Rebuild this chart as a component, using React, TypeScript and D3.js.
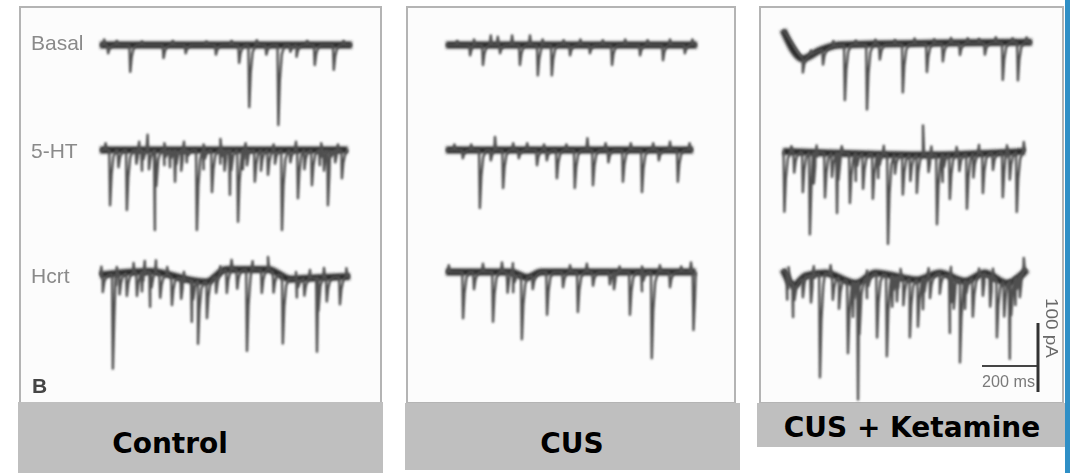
import React from 'react'
import * as d3 from 'd3'

type Pt = [number, number]

// groups and rows
const groups = ['Control', 'CUS', 'CUS + Ketamine']
const rowLabels = ['Basal', '5-HT', 'Hcrt']

// each trace: slow baseline knots [ms, pA], fast inward currents [ms, pA], small upward noise [ms, pA], duration (ms)
const controlBasalBase: Pt[] = [[0, 0], [900, 0]]
const controlBasalSpikes: Pt[] = [[29, -12], [108, -39], [227, -19], [306, -12], [414, -14], [497, -26], [533, -90], [594, -14], [637, -116], [680, -10], [702, -17], [767, -29], [835, -36]]
const controlBasalBumps: Pt[] = [[15, 8], [60, 6], [150, 5], [260, 6], [380, 5], [470, 6], [560, 7], [740, 6], [870, 6]]
const controlBasalLength = 900

const control5htBase: Pt[] = [[0, 0], [885, 0]]
const control5htSpikes: Pt[] = [[36, -80], [66, -25], [96, -87], [130, -20], [150, -30], [175, -28], [196, -116], [230, -22], [250, -25], [268, -46], [290, -30], [310, -18], [346, -116], [370, -28], [400, -61], [430, -20], [445, -30], [464, -65], [493, -104], [510, -28], [525, -22], [553, -46], [575, -30], [600, -36], [625, -20], [650, -116], [680, -18], [707, -70], [730, -28], [757, -51], [785, -22], [800, -30], [814, -80], [840, -18], [864, -41]]
const control5htBumps: Pt[] = [[20, 10], [140, 12], [170, 22], [230, 10], [300, 12], [370, 8], [430, 16], [520, 10], [620, 8], [700, 12], [790, 10], [850, 8]]
const control5htLength = 885

const controlHcrtBase: Pt[] = [[0, 0], [180, 5], [330, -8], [380, -10], [450, 8], [600, 8], [680, -6], [780, -4], [893, -2]]
const controlHcrtSpikes: Pt[] = [[10, -25], [46, -137], [70, -30], [96, -33], [132, -34], [150, -28], [179, -51], [215, -35], [257, -42], [290, -30], [328, -60], [350, -91], [382, -53], [415, -25], [453, -34], [490, -28], [525, -118], [578, -34], [620, -30], [653, -98], [703, -27], [730, -25], [775, -107], [810, -35], [857, -40]]
const controlHcrtBumps: Pt[] = [[5, 12], [60, 10], [120, 14], [160, 16], [200, 18], [240, 12], [300, 10], [430, 10], [470, 14], [545, 12], [600, 18], [700, 10], [750, 12], [800, 14], [880, 12]]
const controlHcrtLength = 893

const cusBasalBase: Pt[] = [[0, 0], [896, 0]]
const cusBasalSpikes: Pt[] = [[86, -15], [132, -29], [193, -12], [264, -29], [328, -44], [378, -44], [443, -15], [514, -12], [593, -29], [693, -15], [775, -22], [853, -12]]
const cusBasalBumps: Pt[] = [[40, 6], [100, 8], [160, 14], [185, 12], [236, 14], [300, 14], [345, 8], [420, 7], [480, 8], [560, 7], [640, 8], [720, 7], [800, 8], [880, 8]]
const cusBasalLength = 896

const cus5htBase: Pt[] = [[0, 0], [882, 0]]
const cus5htSpikes: Pt[] = [[60, -12], [121, -84], [160, -15], [204, -55], [260, -12], [325, -22], [360, -15], [396, -41], [460, -55], [525, -51], [580, -18], [632, -46], [700, -61], [760, -15], [828, -46]]
const cus5htBumps: Pt[] = [[30, 8], [90, 8], [175, 19], [240, 10], [290, 10], [350, 8], [430, 8], [505, 17], [570, 10], [660, 10], [740, 10], [800, 12], [870, 10]]
const cus5htLength = 882

const cusHcrtBase: Pt[] = [[0, 0], [230, 0], [290, -8], [340, 0], [892, 0]]
const cusHcrtSpikes: Pt[] = [[61, -67], [100, -25], [168, -72], [220, -30], [240, -28], [271, -92], [310, -20], [361, -62], [418, -22], [471, -58], [525, -20], [585, -18], [600, -25], [657, -62], [700, -28], [735, -125], [800, -22], [884, -84]]
const cusHcrtBumps: Pt[] = [[10, 10], [132, 12], [200, 14], [239, 14], [443, 10], [503, 12], [620, 8], [700, 8], [764, 10], [840, 8], [875, 14]]
const cusHcrtLength = 892

const ketBasalBase: Pt[] = [[0, 22], [70, -20], [130, -8], [200, 0], [889, 4]]
const ketBasalSpikes: Pt[] = [[71, -20], [143, -22], [221, -80], [300, -94], [346, -22], [428, -70], [514, -41], [571, -26], [632, -17], [721, -17], [785, -54], [839, -55]]
const ketBasalBumps: Pt[] = [[100, 6], [180, 8], [260, 6], [330, 7], [400, 6], [470, 8], [540, 6], [600, 8], [660, 7], [700, 6], [760, 8], [820, 6], [870, 7]]
const ketBasalLength = 889

const ket5htBase: Pt[] = [[0, 2], [500, -3], [864, 2]]
const ket5htSpikes: Pt[] = [[5, -87], [40, -30], [71, -58], [96, -119], [110, -45], [150, -65], [175, -35], [193, -87], [239, -72], [260, -40], [286, -51], [321, -65], [340, -35], [375, -130], [400, -28], [428, -58], [455, -38], [478, -55], [520, -25], [550, -101], [570, -40], [596, -65], [630, -25], [657, -80], [680, -35], [714, -58], [750, -25], [785, -65], [810, -40], [835, -87]]
const ket5htBumps: Pt[] = [[30, 8], [120, 10], [210, 10], [360, 12], [500, 43], [530, 12], [620, 10], [700, 12], [800, 10], [860, 14]]
const ket5htLength = 864

const ketHcrtBase: Pt[] = [[0, 5], [40, -18], [80, -4], [150, 0], [260, -15], [330, 0], [480, -10], [560, 0], [650, -12], [720, 0], [800, -15], [871, 5]]
const ketHcrtSpikes: Pt[] = [[15, -35], [36, -48], [71, -28], [100, -40], [132, -150], [178, -35], [200, -45], [232, -105], [250, -50], [268, -170], [300, -30], [336, -93], [371, -118], [390, -45], [407, -36], [430, -40], [453, -85], [482, -68], [500, -45], [525, -32], [560, -30], [596, -82], [610, -45], [632, -120], [650, -40], [678, -56], [714, -32], [740, -45], [764, -85], [790, -50], [810, -112], [830, -40], [846, -33]]
const ketHcrtBumps: Pt[] = [[20, 15], [110, 12], [170, 14], [300, 10], [420, 12], [520, 12], [600, 14], [700, 10], [750, 12], [860, 20]]
const ketHcrtLength = 871

// scale bar
const scaleBarMs = 200
const scaleBarPa = 100

const traces = [
  [
    { base: controlBasalBase, spikes: controlBasalSpikes, bumps: controlBasalBumps, length: controlBasalLength },
    { base: control5htBase, spikes: control5htSpikes, bumps: control5htBumps, length: control5htLength },
    { base: controlHcrtBase, spikes: controlHcrtSpikes, bumps: controlHcrtBumps, length: controlHcrtLength },
  ],
  [
    { base: cusBasalBase, spikes: cusBasalSpikes, bumps: cusBasalBumps, length: cusBasalLength },
    { base: cus5htBase, spikes: cus5htSpikes, bumps: cus5htBumps, length: cus5htLength },
    { base: cusHcrtBase, spikes: cusHcrtSpikes, bumps: cusHcrtBumps, length: cusHcrtLength },
  ],
  [
    { base: ketBasalBase, spikes: ketBasalSpikes, bumps: ketBasalBumps, length: ketBasalLength },
    { base: ket5htBase, spikes: ket5htSpikes, bumps: ket5htBumps, length: ket5htLength },
    { base: ketHcrtBase, spikes: ketHcrtSpikes, bumps: ketHcrtBumps, length: ketHcrtLength },
  ],
]

// layout
const panels = [
  { x: 20, w: 361, traceX: 100, rows: [45, 150, 275], box: { x: 18, y: 402, w: 365, h: 71 }, labelX: 170, labelY: 453 },
  { x: 407, w: 328, traceX: 446, rows: [45, 150, 272], box: { x: 405, y: 403, w: 335, h: 67 }, labelX: 572, labelY: 453 },
  { x: 760, w: 303, traceX: 783, rows: [45, 153, 273], box: { x: 757, y: 403, w: 308, h: 44 }, labelX: 912, labelY: 437 },
]
const rowLabelY = [50, 158, 283]

function tracePoints(base: Pt[], spikes: Pt[], bumps: Pt[], length: number): Pt[] {
  const baseAt = d3.scaleLinear()
    .domain(base.map(d => d[0]))
    .range(base.map(d => d[1]))
    .clamp(true)
  const pts: Pt[] = base.map(d => [d[0], d[1]] as Pt)
  spikes.forEach(([t, a]) => {
    pts.push([t - 3, baseAt(t - 3)], [t, baseAt(t) + a], [t + 5, baseAt(t + 5) + a * 0.45],
      [t + 12, baseAt(t + 12) + a * 0.12], [t + 22, baseAt(t + 22)])
  })
  bumps.forEach(([t, a]) => {
    pts.push([t - 4, baseAt(t - 4)], [t, baseAt(t) + a], [t + 4, baseAt(t + 4)])
  })
  return pts.filter(p => p[0] >= 0 && p[0] <= length).sort((a, b) => a[0] - b[0])
}

export default function App() {
  return (
    <svg width={1070} height={473} style={{ position: 'absolute', left: 0, top: 0 }}>
      <defs>
        <filter id="blurBand" filterUnits="userSpaceOnUse" x={0} y={0} width={1070} height={473}>
          <feGaussianBlur stdDeviation="1.5" />
        </filter>
        <filter id="blurLine" filterUnits="userSpaceOnUse" x={0} y={0} width={1070} height={473}>
          <feGaussianBlur stdDeviation="1" />
        </filter>
        <filter id="blurText" filterUnits="userSpaceOnUse" x={0} y={0} width={1070} height={473}>
          <feGaussianBlur stdDeviation="0.5" />
        </filter>
      </defs>
      <rect x={0} y={0} width={1070} height={473} fill="#ffffff" />

      {panels.map((p, gi) => {
        const x = d3.scaleLinear().domain([0, 1000]).range([p.traceX, p.traceX + 280])
        return (
          <g key={gi}>
            <rect x={p.x} y={7} width={p.w} height={396} fill="#fcfcfc" stroke="#b4b4b4" strokeWidth={2} />
            {traces[gi].map((tr, ri) => {
              const y = d3.scaleLinear().domain([0, -100]).range([p.rows[ri], p.rows[ri] + 69])
              const line = d3.line<Pt>().x(d => x(d[0])).y(d => y(d[1]))
              const bandLine = d3.line<Pt>().x(d => x(d[0])).y(d => y(d[1])).curve(d3.curveMonotoneX)
              const pts = tracePoints(tr.base, tr.spikes, tr.bumps, tr.length)
              return (
                <g key={ri}>
                  <path d={bandLine(tr.base) || ''} fill="none" stroke="#2a2a2a" strokeWidth={7}
                    filter="url(#blurBand)" />
                  <path d={line(pts) || ''} fill="none" stroke="#505050" strokeWidth={2.4} strokeLinejoin="round"
                    filter="url(#blurLine)" />
                </g>
              )
            })}
            <rect x={p.box.x} y={p.box.y} width={p.box.w} height={p.box.h} fill="#bfbfbf" />
            <text x={p.labelX} y={p.labelY} textAnchor="middle" fontFamily="DejaVu Sans, Verdana, sans-serif"
              fontWeight="bold" fontSize={28} fill="#000">{groups[gi]}</text>
          </g>
        )
      })}

      <g filter="url(#blurText)">
        {rowLabels.map((l, i) => (
          <text key={l} x={31} y={rowLabelY[i]} fontFamily="Liberation Sans, Arial, sans-serif" fontSize={21}
            fill="#8a8a8a">{l}</text>
        ))}
        <text x={32} y={393} fontFamily="Liberation Sans, Arial, sans-serif" fontWeight="bold" fontSize={21} fill="#444">B</text>
      </g>

      {(() => {
        const p = panels[2]
        const x = d3.scaleLinear().domain([0, 1000]).range([p.traceX, p.traceX + 280])
        const y = d3.scaleLinear().domain([0, -100]).range([0, 69])
        const x1 = 1038
        const x0 = x1 - (x(scaleBarMs) - x(0))
        const yb = 392
        const yt = yb - y(-scaleBarPa)
        return (
          <g filter="url(#blurText)">
            <line x1={x0} x2={x1} y1={366} y2={366} stroke="#444" strokeWidth={2} />
            <line x1={x1} x2={x1} y1={yt} y2={yb} stroke="#333" strokeWidth={3} />
            <text x={x0} y={387} fontFamily="Liberation Sans, Arial, sans-serif" fontSize={17} fill="#7a7a7a"
              textLength={53} lengthAdjust="spacingAndGlyphs">200 ms</text>
            <text transform="translate(1046,298) rotate(90)" fontFamily="Liberation Sans, Arial, sans-serif" fontSize={17}
              fill="#6a6a6a" textLength={60} lengthAdjust="spacingAndGlyphs">100 pA</text>
          </g>
        )
      })()}

      <rect x={1065} y={0} width={5} height={473} fill="#2f8fc6" />
    </svg>
  )
}
